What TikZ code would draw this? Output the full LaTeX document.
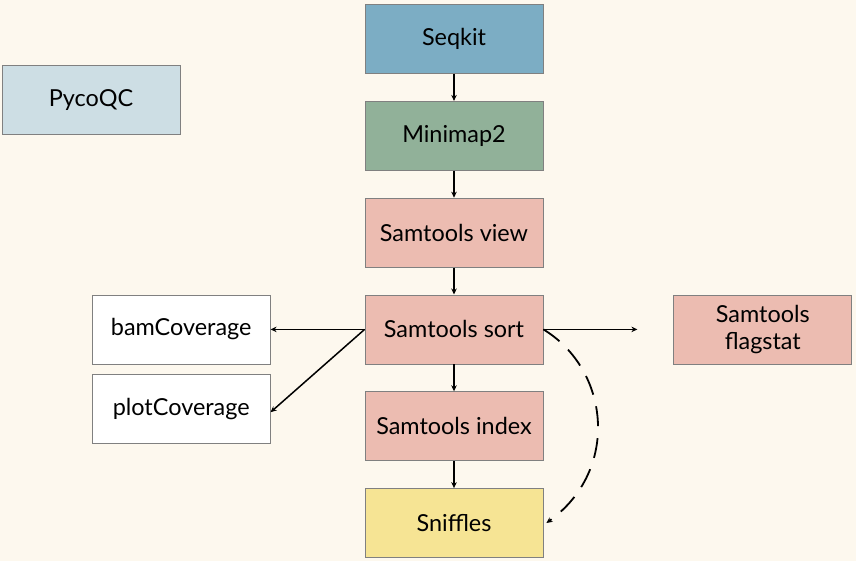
\documentclass[tikz,border=0pt]{standalone}
\usepackage{fontspec}
\setmainfont{Lato}
\usetikzlibrary{positioning,arrows.meta}
\definecolor{mybg}{RGB}{253,248,238}
\definecolor{myblue}{RGB}{124,173,196}
\definecolor{mygreen}{RGB}{145,177,153}
\definecolor{mypink}{RGB}{236,188,177}
\definecolor{myyellow}{RGB}{246,228,148}
\definecolor{mylight}{RGB}{205,222,228}
\definecolor{myborder}{RGB}{128,128,128}

\begin{document}
\begin{tikzpicture}[x=1bp,y=-1bp,
  tool/.style={draw=myborder,line width=0.8bp,minimum width=178bp,minimum height=69bp,
    inner sep=0pt,align=center,font=\fontsize{23.5}{27}\selectfont},
  flow/.style={line width=1.5bp,-{Stealth[length=6bp,width=5.5bp]}},
  node distance=27bp]

  \useasboundingbox[fill=mybg] (0,0) rectangle (856,561);

  \node[tool,fill=myblue] (seqkit) at (454,39) {Seqkit};
  \node[tool,fill=mygreen,below=of seqkit] (minimap) {Minimap2};
  \node[tool,fill=mypink,below=of minimap] (view) {Samtools view};
  \node[tool,fill=mypink,below=of view] (sort) {Samtools sort};
  \node[tool,fill=mypink,below=of sort] (index) {Samtools index};
  \node[tool,fill=myyellow,below=of index] (sniffles) {Sniffles};

  \node[tool,fill=mylight] (pycoqc) at (91,100) {PycoQC};
  \node[tool,fill=white,left=94bp of sort] (bamcov) {bamCoverage};
  \node[tool,fill=white,below=10bp of bamcov] (plotcov) {plotCoverage};
  \node[tool,fill=mypink,right=130bp of sort] (flagstat) {Samtools\\flagstat};

  \draw[flow] (seqkit) -- (minimap);
  \draw[flow] (minimap) -- (view);
  \draw[flow] (view) -- (sort);
  \draw[flow] (sort) -- (index);
  \draw[flow] (index) -- (sniffles);

  \draw[flow] (sort.west) -- (bamcov.east);
  \draw[flow] (sort.west) -- ([yshift=-3bp]plotcov.east);
  \draw[flow,shorten >=36bp] (sort.east) -- (flagstat.west);
  \draw[flow,line width=1.8bp,dash pattern=on 20bp off 12bp] (sort.east)
    .. controls (610,370) and (620,470) .. ([xshift=3bp]sniffles.east);
\end{tikzpicture}
\end{document}
